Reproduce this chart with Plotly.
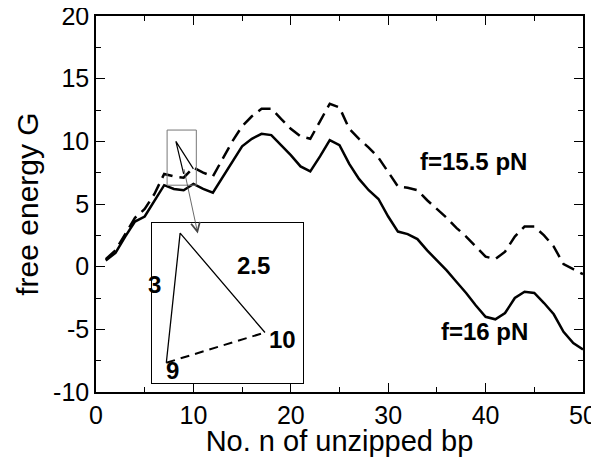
import plotly.graph_objects as go

# free energy landscape
n_bp = list(range(1, 51))
G_16 = [0.5, 1.1, 2.4, 3.6, 4.0, 5.2, 6.5, 6.2, 6.1, 6.6,
        6.2, 5.9, 7.1, 8.4, 9.6, 10.2, 10.6, 10.5, 9.7, 8.9,
        8.0, 7.6, 8.8, 10.1, 9.7, 8.2, 7.0, 6.1, 5.4, 4.0,
        2.8, 2.6, 2.2, 1.3, 0.5, -0.3, -1.2, -2.1, -3.1, -4.0,
        -4.2, -3.7, -2.5, -2.0, -2.1, -2.9, -3.8, -5.2, -6.1, -6.6]
G_155 = [0.6, 1.3, 2.6, 3.9, 4.6, 5.8, 7.4, 7.2, 7.1, 7.9,
         7.5, 7.2, 8.6, 10.0, 11.2, 12.0, 12.6, 12.6, 11.8, 11.0,
         10.4, 10.2, 11.6, 13.0, 12.7, 11.0, 10.2, 9.5, 8.7, 7.5,
         6.4, 6.3, 6.1, 5.3, 4.6, 3.9, 3.1, 2.4, 1.6, 0.8,
         0.6, 1.2, 2.4, 3.2, 3.2, 2.5, 1.6, 0.2, -0.2, -0.6]

# little barrier sketch near n=9..10 (9, top, 10)
mini_n = [9.0, 8.2, 10.0]
mini_G = [7.4, 10.0, 7.8]
zoom_box = dict(x0=7.3, x1=10.3, y0=6.5, y1=10.9)

# magnified sketch in the inset
tri_n = [9.0, 9.14, 10.0]
tri_G = [7.2, 10.2, 7.9]

# arrow tail -> head
arrow_n = [9.0, 10.45]
arrow_G = [7.9, 2.65]

font = 'Liberation Sans, Arial, sans-serif'
bold = dict(family=font, size=24, color='black', weight='bold')

fig = go.Figure()

fig.add_trace(go.Scatter(x=n_bp, y=G_155, mode='lines',
                         line=dict(color='black', width=2.5, dash='13px,7px')))
fig.add_trace(go.Scatter(x=n_bp, y=G_16, mode='lines',
                         line=dict(color='black', width=2.5)))
fig.add_trace(go.Scatter(x=mini_n, y=mini_G, mode='lines',
                         line=dict(color='black', width=1.2)))

# inset
fig.add_trace(go.Scatter(x=tri_n, y=tri_G, mode='lines', xaxis='x2', yaxis='y2',
                         line=dict(color='black', width=1.3)))
fig.add_trace(go.Scatter(x=[tri_n[0], tri_n[2]], y=[tri_G[0], tri_G[2]], mode='lines',
                         xaxis='x2', yaxis='y2',
                         line=dict(color='black', width=2, dash='9px,6px')))

fig.add_shape(type='rect', xref='x', yref='y', line=dict(color='#777777', width=1),
              **zoom_box)

fig.add_annotation(x=arrow_n[1], y=arrow_G[1], ax=arrow_n[0], ay=arrow_G[0],
                   xref='x', yref='y', axref='x', ayref='y', text='',
                   showarrow=True, arrowhead=5, arrowsize=2.2, arrowwidth=0.8,
                   arrowcolor='#444444')

annotations = [
    dict(x=38.8, y=8.4, text='f=15.5 pN', xref='x', yref='y'),
    dict(x=39.9, y=-5.2, text='f=16 pN', xref='x', yref='y'),
    dict(x=8.88, y=9.0, text='3', xref='x2', yref='y2'),
    dict(x=9.88, y=9.46, text='2.5', xref='x2', yref='y2'),
    dict(x=10.18, y=7.73, text='10', xref='x2', yref='y2'),
    dict(x=9.065, y=7.02, text='9', xref='x2', yref='y2'),
]
for a in annotations:
    fig.add_annotation(showarrow=False, font=bold, **a)

axis_common = dict(showline=True, linecolor='black', linewidth=1.5, mirror='ticks',
                   ticks='inside', ticklen=9, tickwidth=1.2, tickcolor='black',
                   showgrid=False, zeroline=False, automargin=False,
                   ticklabeloverflow='allow',
                   tickfont=dict(family=font, size=25, color='black'))

# the page adds an 8px body margin, so the figure is a bit smaller than the window
fig.update_layout(
    width=591, height=449,
    margin=dict(l=88, r=16, t=8, b=65),
    paper_bgcolor='white', plot_bgcolor='white',
    showlegend=False,
    font=dict(family=font, color='black'),
    xaxis=dict(range=[0, 50], dtick=10,
               minor=dict(dtick=5, ticks='inside', ticklen=5, tickcolor='black'),
               title=dict(text='No. n of unzipped bp', font=dict(family=font, size=29),
                          standoff=4),
               **axis_common),
    yaxis=dict(range=[-10, 20], tickvals=[-10, -5, 0, 5, 10, 15, 20],
               ticktext=['-10', '-5', '0', '5', '10', '15', '20'],
               minor=dict(dtick=2.5, ticks='inside', ticklen=5, tickcolor='black'),
               title=dict(text='free energy G', font=dict(family=font, size=30),
                          standoff=6),
               **axis_common),
    xaxis2=dict(domain=[0.114, 0.426], anchor='y2', range=[8.85, 10.39],
                showline=True, mirror=True, linecolor='black', linewidth=1,
                showticklabels=False, ticks='', showgrid=False, zeroline=False),
    yaxis2=dict(domain=[0.025, 0.449], anchor='x2', range=[6.74, 10.43],
                showline=True, mirror=True, linecolor='black', linewidth=1,
                showticklabels=False, ticks='', showgrid=False, zeroline=False),
)

fig.write_html('out.html')
